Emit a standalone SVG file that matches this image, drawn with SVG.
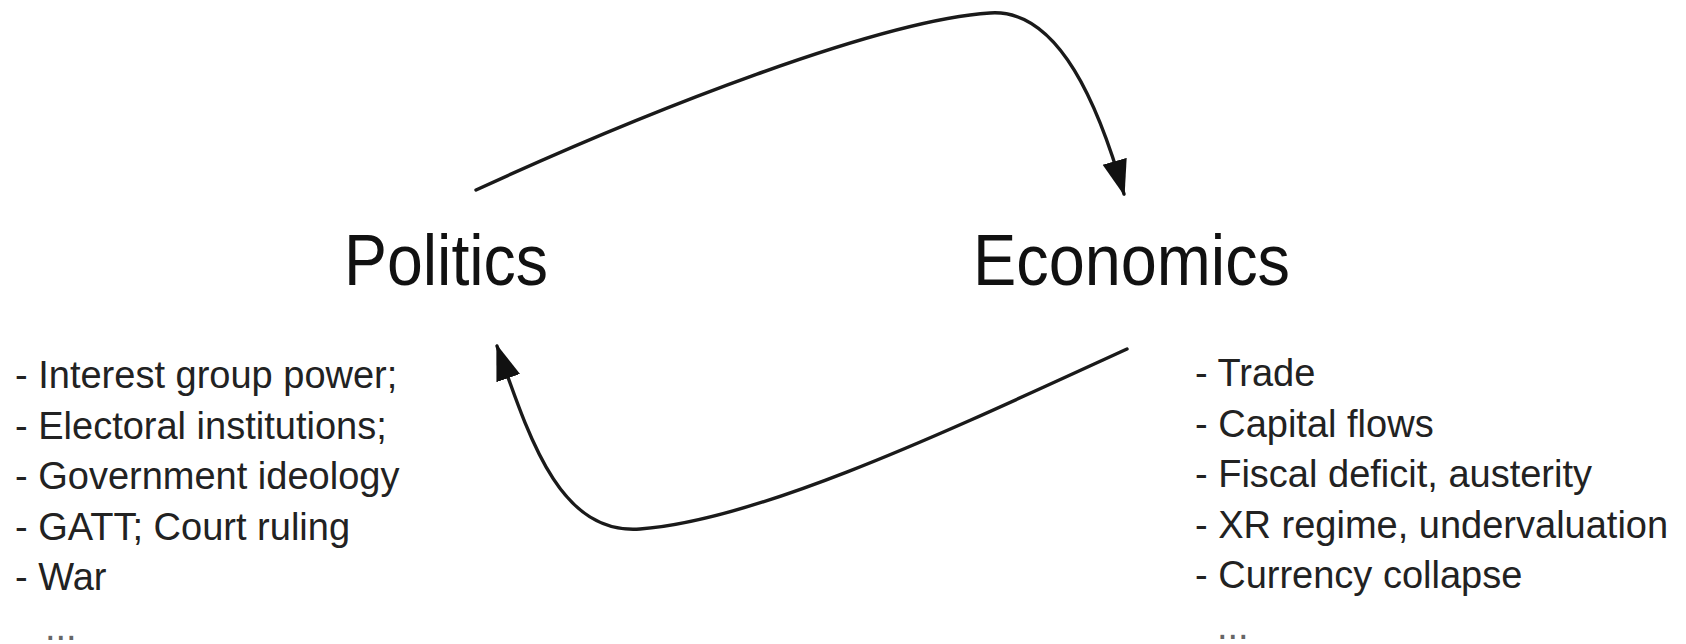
<svg xmlns="http://www.w3.org/2000/svg" width="1686" height="644" viewBox="0 0 1686 644">
<style>
.big{font-family:"Liberation Sans",Arial,sans-serif;font-size:72px;fill:#111}
.item{font-family:"Liberation Sans",Arial,sans-serif;font-size:38px;fill:#222}
.dots{font-family:"Liberation Sans",Arial,sans-serif;font-size:38px;fill:#666}
.conn{fill:none;stroke:#1a1a1a;stroke-width:3.4;stroke-linecap:round}
</style>
<defs>
<marker id="ah" markerUnits="userSpaceOnUse" markerWidth="40" markerHeight="28" refX="34" refY="12.5" orient="auto">
<path d="M0,0 L36,12.5 L0,25 z" fill="#111"/>
</marker>
</defs>
<rect width="1686" height="644" fill="#fff"/>
<g id="connectors">
<path class="conn" d="M476,190 C650,110 880,20 990,13 C1060,8 1100,110 1124,194" marker-end="url(#ah)"/>
<path class="conn" d="M1127,349 C950,430 760,520 640,529 C560,535 530,440 497,346" marker-end="url(#ah)"/>
</g>
<g id="politics">
<text class="big" x="344" y="285" textLength="204" lengthAdjust="spacingAndGlyphs">Politics</text>
</g>
<g id="economics">
<text class="big" x="973" y="285" textLength="317" lengthAdjust="spacingAndGlyphs">Economics</text>
</g>
<g id="politics-list">
<text class="item" x="15" y="388">- Interest group power;</text>
<text class="item" x="15" y="438.5">- Electoral institutions;</text>
<text class="item" x="15" y="489">- Government ideology</text>
<text class="item" x="15" y="539.5">- GATT; Court ruling</text>
<text class="item" x="15" y="590">- War</text>
<text class="dots" x="45" y="640">...</text>
</g>
<g id="economics-list">
<text class="item" x="1195" y="386">- Trade</text>
<text class="item" x="1195" y="436.5">- Capital flows</text>
<text class="item" x="1195" y="487">- Fiscal deficit, austerity</text>
<text class="item" x="1195" y="537.5">- XR regime, undervaluation</text>
<text class="item" x="1195" y="588">- Currency collapse</text>
<text class="dots" x="1217" y="639">...</text>
</g>
</svg>
